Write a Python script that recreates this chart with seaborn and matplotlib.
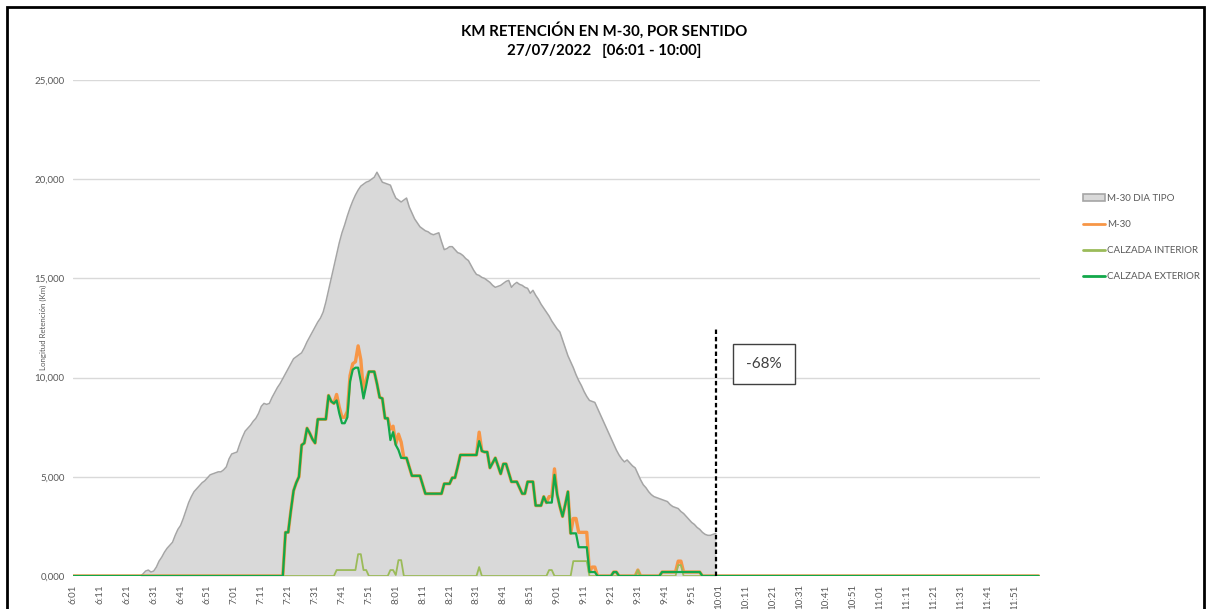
import numpy as np
import pandas as pd
import matplotlib
matplotlib.use('Agg')
import matplotlib.pyplot as plt
from matplotlib.patches import Rectangle, Patch
from matplotlib.lines import Line2D
import seaborn as sns

sns.set_style('white')
plt.rcParams['font.family'] = ['Lato', 'DejaVu Sans']

# x tick labels every 10 minutes (one category per minute, 6:01 -> 11:59)
tick_labels = ['6:01', '6:11', '6:21', '6:31', '6:41', '6:51',
               '7:01', '7:11', '7:21', '7:31', '7:41', '7:51',
               '8:01', '8:11', '8:21', '8:31', '8:41', '8:51',
               '9:01', '9:11', '9:21', '9:31', '9:41', '9:51',
               '10:01', '10:11', '10:21', '10:31', '10:41', '10:51',
               '11:01', '11:11', '11:21', '11:31', '11:41', '11:51']

# M-30 DIA TIPO (km), 6:01 -> 10:00
dia_tipo = [
    0, 0, 0, 0, 0, 0, 0, 0, 0, 0,
    0, 0, 0, 0, 0, 0, 0, 0, 0, 0,
    0, 0, 0, 0, 0, 0, 100, 250, 300, 200,
    250, 450, 750, 950, 1200, 1400, 1550, 1700, 2050, 2350,
    2550, 2900, 3300, 3700, 4000, 4250, 4400, 4550, 4700, 4800,
    4950, 5100, 5150, 5200, 5250, 5250, 5350, 5500, 5900, 6150,
    6200, 6250, 6650, 7000, 7300, 7450, 7600, 7800, 7950, 8200,
    8550, 8700, 8650, 8700, 9000, 9250, 9500, 9700, 9950, 10200,
    10450, 10700, 10950, 11050, 11150, 11250, 11500, 11800, 12050, 12300,
    12550, 12800, 13000, 13300, 13800, 14400, 15000, 15600, 16200, 16800,
    17300, 17700, 18150, 18550, 18900, 19200, 19450, 19650, 19750, 19850,
    19900, 20000, 20100, 20350, 20100, 19850, 19800, 19750, 19700, 19350,
    19050, 18950, 18850, 18950, 19050, 18600, 18300, 18000, 17800, 17600,
    17500, 17400, 17350, 17250, 17200, 17250, 17300, 16850, 16450, 16500,
    16600, 16600, 16450, 16300, 16250, 16150, 16000, 15900, 15650, 15400,
    15200, 15150, 15050, 15000, 14900, 14800, 14650, 14550, 14600, 14650,
    14750, 14850, 14900, 14550, 14700, 14800, 14700, 14650, 14550, 14500,
    14250, 14400, 14150, 13950, 13700, 13500, 13300, 13100, 12850, 12650,
    12450, 12300, 11900, 11500, 11100, 10800, 10500, 10150, 9850, 9600,
    9300, 9050, 8850, 8800, 8750, 8450, 8150, 7850, 7550, 7250,
    6950, 6650, 6350, 6100, 5900, 5750, 5850, 5700, 5550, 5450,
    5150, 4850, 4600, 4450, 4250, 4100, 4000, 3950, 3900, 3850,
    3800, 3750, 3600, 3500, 3450, 3400, 3250, 3150, 3000, 2850,
    2700, 2600, 2450, 2350, 2200, 2100, 2050, 2050, 2100, 2150,
]

# M-30 (km), 6:01 -> 11:59
m30 = [
    0, 0, 0, 0, 0, 0, 0, 0, 0, 0, 0, 0, 0, 0, 0, 0, 0, 0, 0, 0,
    0, 0, 0, 0, 0, 0, 0, 0, 0, 0, 0, 0, 0, 0, 0, 0, 0, 0, 0, 0,
    0, 0, 0, 0, 0, 0, 0, 0, 0, 0, 0, 0, 0, 0, 0, 0, 0, 0, 0, 0,
    0, 0, 0, 0, 0, 0, 0, 0, 0, 0, 0, 0, 0, 0, 0, 0, 0, 0, 0, 2200,
    2200, 3300, 4300, 4700, 5000, 6600, 6700, 7450, 7200, 6900,
    6700, 7900, 7900, 7900, 7900, 9100, 8800, 8700, 9150, 8500,
    8000, 8000, 8300, 10100, 10700, 10800, 11600, 10900, 9250, 9900,
    10300, 10300, 10300, 9700, 9000, 8950, 7950, 7950, 7400, 7550,
    6650, 7150, 6750, 5950, 5950, 5500, 5050, 5050, 5050, 5050,
    4600, 4150, 4150, 4150, 4150, 4150, 4150, 4150, 4650, 4650,
    4650, 4950, 4950, 5500, 6100, 6100, 6100, 6100, 6100, 6100,
    6100, 7250, 6300, 6250, 6250, 5450, 5700, 5950, 5550, 5150,
    5650, 5650, 5200, 4750, 4750, 4750, 4450, 4150, 4150, 4750,
    4750, 4750, 3550, 3550, 3550, 4000, 3700, 4000, 4000, 5400,
    4100, 3500, 3000, 3600, 4250, 2150, 2900, 2900, 2200, 2200,
    2200, 2200, 200, 450, 450, 0, 0, 0, 0, 0,
    0, 200, 200, 0, 0, 0, 0, 0, 0, 0,
    300, 0, 0, 0, 0, 0, 0, 0, 0, 200,
    200, 200, 200, 200, 200, 750, 750, 200, 200, 200,
    200, 200, 200, 200, 0, 0, 0, 0, 0, 0,
    0, 0, 0, 0, 0, 0, 0, 0, 0, 0, 0, 0, 0, 0, 0, 0, 0, 0, 0, 0,
    0, 0, 0, 0, 0, 0, 0, 0, 0, 0, 0, 0, 0, 0, 0, 0, 0, 0, 0, 0,
    0, 0, 0, 0, 0, 0, 0, 0, 0, 0, 0, 0, 0, 0, 0, 0, 0, 0, 0, 0,
    0, 0, 0, 0, 0, 0, 0, 0, 0, 0, 0, 0, 0, 0, 0, 0, 0, 0, 0, 0,
    0, 0, 0, 0, 0, 0, 0, 0, 0, 0, 0, 0, 0, 0, 0, 0, 0, 0, 0, 0,
    0, 0, 0, 0, 0, 0, 0, 0, 0, 0, 0, 0, 0, 0, 0, 0, 0, 0, 0, 0,
]

# CALZADA INTERIOR (km)
interior = [
    0, 0, 0, 0, 0, 0, 0, 0, 0, 0, 0, 0, 0, 0, 0, 0, 0, 0, 0, 0,
    0, 0, 0, 0, 0, 0, 0, 0, 0, 0, 0, 0, 0, 0, 0, 0, 0, 0, 0, 0,
    0, 0, 0, 0, 0, 0, 0, 0, 0, 0, 0, 0, 0, 0, 0, 0, 0, 0, 0, 0,
    0, 0, 0, 0, 0, 0, 0, 0, 0, 0, 0, 0, 0, 0, 0, 0, 0, 0, 0, 0,
    0, 0, 0, 0, 0, 0, 0, 0, 0, 0, 0, 0, 0, 0, 0, 0, 0, 0, 300, 300,
    300, 300, 300, 300, 300, 300, 1100, 1100, 300, 300, 0, 0, 0, 0, 0, 0, 0, 0, 300, 300,
    50, 800, 800, 0, 0, 0, 0, 0, 0, 0, 0, 0, 0, 0, 0, 0, 0, 0, 0, 0,
    0, 0, 0, 0, 0, 0, 0, 0, 0, 0, 0, 450, 0, 0, 0, 0, 0, 0, 0, 0,
    0, 0, 0, 0, 0, 0, 0, 0, 0, 0, 0, 0, 0, 0, 0, 0, 0, 300, 300, 0,
    0, 0, 0, 0, 0, 0, 750, 750, 750, 750, 750, 750, 0, 0, 0, 0, 0, 0, 0, 0,
    0, 0, 0, 0, 0, 0, 0, 0, 0, 0, 300, 0, 0, 0, 0, 0, 0, 0, 0, 0,
    0, 0, 0, 0, 0, 550, 550, 0, 0, 0, 0, 0, 0, 0, 0, 0, 0, 0, 0, 0,
    0, 0, 0, 0, 0, 0, 0, 0, 0, 0, 0, 0, 0, 0, 0, 0, 0, 0, 0, 0,
    0, 0, 0, 0, 0, 0, 0, 0, 0, 0, 0, 0, 0, 0, 0, 0, 0, 0, 0, 0,
    0, 0, 0, 0, 0, 0, 0, 0, 0, 0, 0, 0, 0, 0, 0, 0, 0, 0, 0, 0,
    0, 0, 0, 0, 0, 0, 0, 0, 0, 0, 0, 0, 0, 0, 0, 0, 0, 0, 0, 0,
    0, 0, 0, 0, 0, 0, 0, 0, 0, 0, 0, 0, 0, 0, 0, 0, 0, 0, 0, 0,
    0, 0, 0, 0, 0, 0, 0, 0, 0, 0, 0, 0, 0, 0, 0, 0, 0, 0, 0, 0,
]

# CALZADA EXTERIOR (km)
exterior = [
    0, 0, 0, 0, 0, 0, 0, 0, 0, 0, 0, 0, 0, 0, 0, 0, 0, 0, 0, 0,
    0, 0, 0, 0, 0, 0, 0, 0, 0, 0, 0, 0, 0, 0, 0, 0, 0, 0, 0, 0,
    0, 0, 0, 0, 0, 0, 0, 0, 0, 0, 0, 0, 0, 0, 0, 0, 0, 0, 0, 0,
    0, 0, 0, 0, 0, 0, 0, 0, 0, 0, 0, 0, 0, 0, 0, 0, 0, 0, 0, 2200,
    2200, 3300, 4300, 4700, 5000, 6600, 6700, 7450, 7200, 6900,
    6700, 7900, 7900, 7900, 7900, 9100, 8800, 8700, 8850, 8200,
    7700, 7700, 8000, 9800, 10400, 10500, 10500, 9800, 8950, 9600,
    10300, 10300, 10300, 9700, 9000, 8950, 7950, 7950, 6850, 7250,
    6600, 6350, 5950, 5950, 5950, 5500, 5050, 5050, 5050, 5050,
    4600, 4150, 4150, 4150, 4150, 4150, 4150, 4150, 4650, 4650,
    4650, 4950, 4950, 5500, 6100, 6100, 6100, 6100, 6100, 6100,
    6100, 6800, 6300, 6250, 6250, 5450, 5700, 5950, 5550, 5150,
    5650, 5650, 5200, 4750, 4750, 4750, 4450, 4150, 4150, 4750,
    4750, 4750, 3550, 3550, 3550, 4000, 3700, 3700, 3700, 5100,
    4100, 3500, 3000, 3600, 4250, 2150, 2150, 2150, 1450, 1450,
    1450, 1450, 200, 200, 200, 0, 0, 0, 0, 0,
    0, 200, 200, 0, 0, 0, 0, 0, 0, 0,
    0, 0, 0, 0, 0, 0, 0, 0, 0, 200,
    200, 200, 200, 200, 200, 200, 200, 200, 200, 200,
    200, 200, 200, 200, 0, 0, 0, 0, 0, 0,
    0, 0, 0, 0, 0, 0, 0, 0, 0, 0, 0, 0, 0, 0, 0, 0, 0, 0, 0, 0,
    0, 0, 0, 0, 0, 0, 0, 0, 0, 0, 0, 0, 0, 0, 0, 0, 0, 0, 0, 0,
    0, 0, 0, 0, 0, 0, 0, 0, 0, 0, 0, 0, 0, 0, 0, 0, 0, 0, 0, 0,
    0, 0, 0, 0, 0, 0, 0, 0, 0, 0, 0, 0, 0, 0, 0, 0, 0, 0, 0, 0,
    0, 0, 0, 0, 0, 0, 0, 0, 0, 0, 0, 0, 0, 0, 0, 0, 0, 0, 0, 0,
    0, 0, 0, 0, 0, 0, 0, 0, 0, 0, 0, 0, 0, 0, 0, 0, 0, 0, 0, 0,
]

variacion = '-68%'

df = pd.DataFrame({'minuto': np.arange(len(m30)), 'M-30': m30,
                   'CALZADA INTERIOR': interior, 'CALZADA EXTERIOR': exterior})
df['M-30 DIA TIPO'] = pd.Series(dia_tipo)
ultimo = len(dia_tipo) - 1  # 10:00

c_gris = '#d9d9d9'
c_borde = '#a5a5a5'
c_naranja = '#f79646'
c_int = '#9bbb59'
c_ext = '#12a84a'
c_texto = '#595959'

fig = plt.figure(figsize=(12.08, 6.09), dpi=100)
ax = fig.add_axes([73 / 1208, 33 / 609, (1040 - 73) / 1208, (576 - 80) / 609])

tipo = df.dropna(subset=['M-30 DIA TIPO'])
ax.fill_between(tipo['minuto'], tipo['M-30 DIA TIPO'], color=c_gris, lw=0, zorder=1)
sns.lineplot(data=tipo, x='minuto', y='M-30 DIA TIPO', color=c_borde, lw=1.1, ax=ax, zorder=2)
sns.lineplot(data=df, x='minuto', y='M-30', color=c_naranja, lw=2.4, ax=ax, zorder=3)
sns.lineplot(data=df, x='minuto', y='CALZADA INTERIOR', color=c_int, lw=1.3, ax=ax, zorder=4)
sns.lineplot(data=df, x='minuto', y='CALZADA EXTERIOR', color=c_ext, lw=1.6, ax=ax, zorder=5)

ax.vlines(ultimo, 0, 12500, color='black', linestyles=(0, (2, 1.3)), lw=1.6, zorder=6)
ax.text(257, 10700, variacion, fontsize=11, color='#404040', ha='center', va='center', zorder=7,
        bbox=dict(boxstyle='square,pad=0.85', fc='white', ec='#404040', lw=1.0))

ax.set_xlim(0, 359.5)
ax.set_ylim(0, 25000)
ax.set_yticks(range(0, 25001, 5000))
ax.set_yticklabels(['0,000', '5,000', '10,000', '15,000', '20,000', '25,000'])
ax.set_xticks(range(0, len(tick_labels) * 10, 10))
ax.set_xticklabels(tick_labels, rotation=90)
ax.tick_params(axis='both', labelsize=7, colors=c_texto, length=0, pad=6)
ax.yaxis.grid(True, color='#d9d9d9', lw=1)
ax.set_axisbelow(True)
sns.despine(ax=ax, left=True, bottom=True)
ax.set_xlabel('')
ax.set_ylabel('Longitud Retención (Km)', fontsize=5.7, color=c_texto)
ax.yaxis.set_label_coords((47 - 73) / 967, (576 - 327) / 496)

fig.text(0.5, 1 - 30 / 609, 'KM RETENCIÓN EN M-30, POR SENTIDO', ha='center', va='center',
         fontsize=10.8, fontweight='bold', color='black')
fig.text(0.5, 1 - 51 / 609, '27/07/2022   [06:01 - 10:00]', ha='center', va='center',
         fontsize=10.8, fontweight='bold', color='black')

handles = [Patch(facecolor=c_gris, edgecolor=c_borde, lw=1.2),
           Line2D([], [], color=c_naranja, lw=2),
           Line2D([], [], color=c_int, lw=2),
           Line2D([], [], color=c_ext, lw=2)]
labels = ['M-30 DIA TIPO', 'M-30', 'CALZADA INTERIOR', 'CALZADA EXTERIOR']
leg = fig.legend(handles, labels, loc='upper left', bbox_to_anchor=(1078 / 1208, 1 - 189 / 609),
                 frameon=False, fontsize=7, handlelength=2.3, handleheight=0.8, handletextpad=0.2,
                 labelspacing=1.75, borderpad=0)
for t in leg.get_texts():
    t.set_color(c_texto)

fig.add_artist(Rectangle((7 / 1208, -0.05), 1197 / 1208, 1.05 - 7 / 609, transform=fig.transFigure,
                         fill=False, ec='black', lw=2))

fig.savefig('out.png', dpi=100)
